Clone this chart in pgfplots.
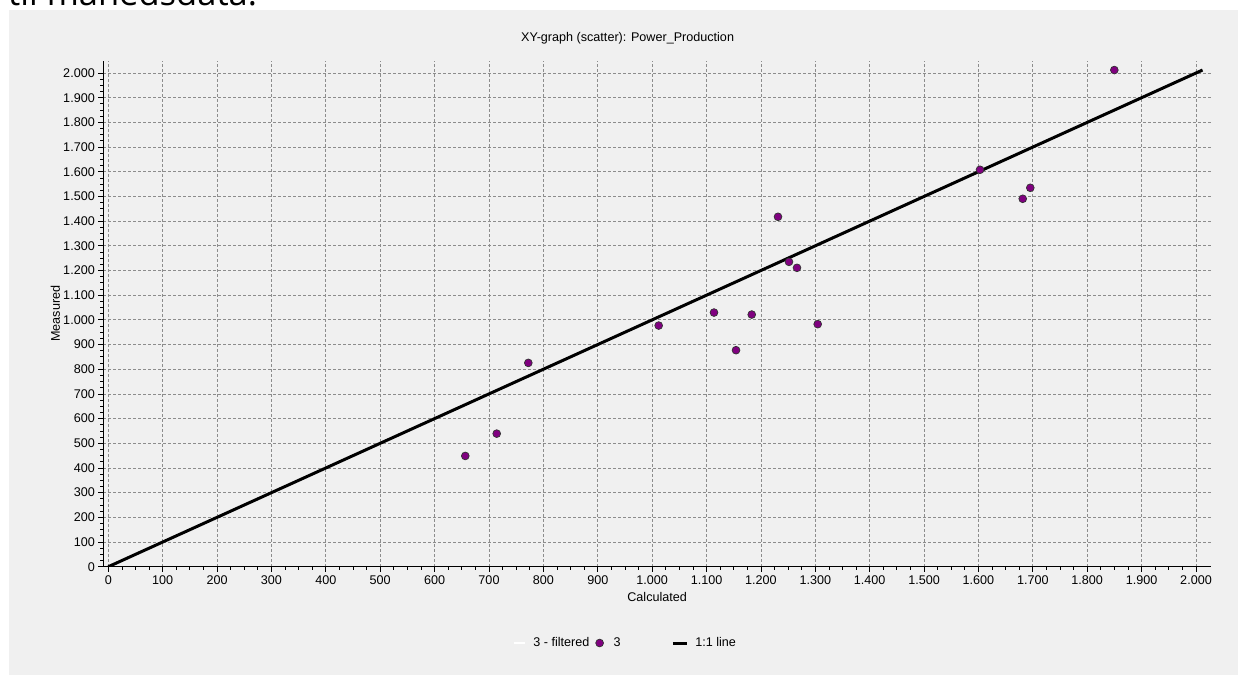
\documentclass[border=0pt]{standalone}
\usepackage{fontspec}
\setmainfont{Liberation Sans}
\newfontfamily\topfont{Open Sans}
\usepackage{pgfplots}
\pgfplotsset{compat=1.18}
\definecolor{panel}{HTML}{F0F0F0}
\definecolor{gridc}{HTML}{8C8C8C}
\definecolor{dotc}{HTML}{800080}
\newcommand{\fs}{\fontsize{12.6bp}{14bp}\selectfont}
\begin{document}
\begin{tikzpicture}[x=1bp,y=1bp]
\path[use as bounding box] (0,0) rectangle (1238,-675);
\begin{scope}
\clip (0,0) rectangle (1238,-675);
\fill[white] (0,0) rectangle (1238,-675);
\fill[panel] (9,-10) rectangle (1238,-675);
\node[anchor=base west, inner sep=0, font=\topfont\fontsize{34.5bp}{40bp}\selectfont] at (8,-5.5) {til månedsdata.};
\end{scope}
\begin{axis}[
  at={(103.3bp,-566.7bp)}, anchor=south west,
  scale only axis, width=1107.7bp, height=506bp,
  xmin=-9.2, xmax=2027.6, ymin=0, ymax=2049.9,
  axis x line=bottom, axis y line=left,
  axis line style={black, line width=1.1bp, -},
  xtick={0,100,...,2000}, ytick={0,100,...,2000},
  minor tick num=3,
  tick align=outside,
  major tick length=5bp, minor tick length=3bp,
  tick style={black, line width=0.8bp},
  grid=major,
  major grid style={dash pattern=on 3bp off 2bp, color=gridc, line width=0.8bp},
  tick label style={font=\fs},
  scaled ticks=false,
  /pgf/number format/1000 sep={.},
  /pgf/number format/assume math mode=true,
  title={XY-graph (scatter): Power\_Production},
  title style={font=\fs, at={(axis description cs:0.4733,1.0316)}, anchor=center},
  xlabel={Calculated},
  xlabel style={font=\fs, at={(axis description cs:0.5,-0.0605)}, anchor=center},
  ylabel={Measured},
  ylabel style={font=\fs, at={(axis description cs:-0.0433,0.5)}, anchor=center},
  legend columns=-1,
  legend style={font=\fs, draw=none, fill=none, inner sep=0bp, column sep=0bp,
    nodes={inner sep=0bp}, cells={anchor=west},
    at={(axis description cs:0.3695,-0.1508)}, anchor=west},
]
\addplot[black, line width=3bp, forget plot] coordinates {(0,0) (2012,2012)};
\addplot[only marks, mark=*, mark size=3.9bp,
  mark options={fill=dotc, draw=black!80, line width=0.7bp}, forget plot] coordinates {
(656.4,448.7) (714.2,539.1) (772.3,825.7) (1012.0,976.9) (1113.7,1029.6)
(1154.2,877.2) (1183.1,1021.5) (1304.4,982.6) (1231.4,1417.5) (1251.6,1235)
(1266.3,1210.8) (1602.8,1608) (1681.4,1490.5) (1695.3,1535) (1849.8,2012)
};
\addlegendimage{legend image code/.code={\draw[white, line width=1.5bp] (0bp,0bp) -- (11bp,0bp);}}
\addlegendentry{\hspace*{8bp}3 - filtered}
\addlegendimage{legend image code/.code={\path (0bp,0bp) (13.7bp,0bp); \fill[dotc, draw=black!80, line width=0.7bp] (10.1bp,0bp) circle (3.9bp);}}
\addlegendentry{\hspace*{9.7bp}3}
\addlegendimage{legend image code/.code={\path (0bp,0bp) (66bp,0bp); \draw[black, line width=3bp] (52bp,0bp) -- (66bp,0bp);}}
\addlegendentry{\hspace*{7bp}1:1 line}
\end{axis}
\end{tikzpicture}
\end{document}
